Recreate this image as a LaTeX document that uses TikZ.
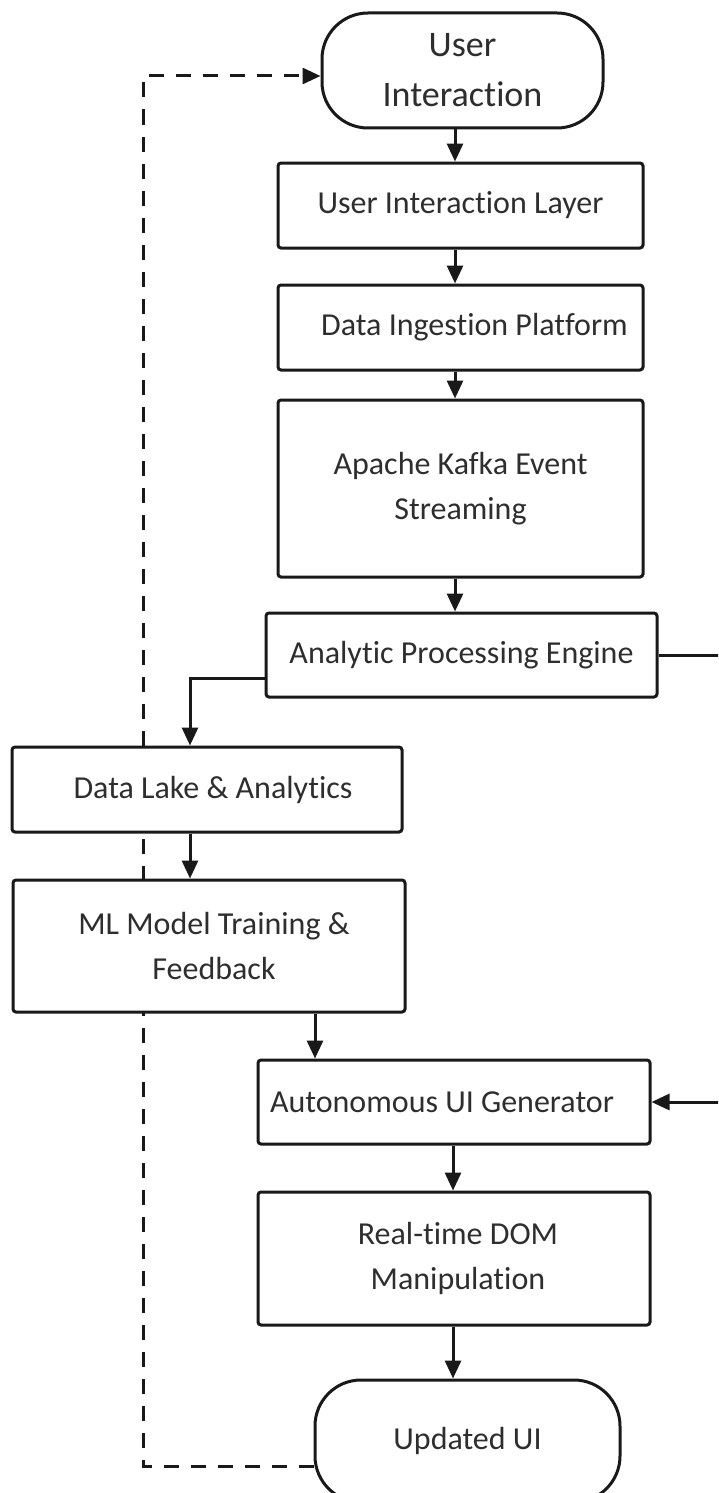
\documentclass[tikz,border=0pt]{standalone}
\usepackage{fontspec}
\setmainfont{Carlito}[Ligatures={NoCommon}]
\usetikzlibrary{arrows.meta,backgrounds}
\begin{document}
\begin{tikzpicture}[x=1pt,y=-1pt,
  box/.style={draw=black!90, line width=3pt, fill=white, rounded corners=3pt,
    text=black!82, align=center, inner sep=0pt,
    font=\fontsize{32}{45}\selectfont},
  term/.style={box, rounded corners=46pt},
  arr/.style={draw=black!90, line width=3pt, -{Triangle[length=18pt,width=16pt]}},
  dashline/.style={draw=black!90, line width=3pt, dash pattern=on 15pt off 12pt, -{Triangle[length=18pt,width=16pt]}}
]
\clip (0,0) rectangle (718,1493);

\node[term, minimum width=281pt, minimum height=115pt, font=\fontsize{36}{50}\selectfont] (ui) at (462.5,70.5) {User\\Interaction};
\node[box, minimum width=365pt, minimum height=85pt] (uil) at (460.5,205.5) {User Interaction Layer};
\node[box, minimum width=365pt, minimum height=85pt] (dip) at (460.5,327.5) {\hspace*{28pt}Data Ingestion Platform};
\node[box, minimum width=365pt, minimum height=177pt] (kaf) at (460.5,488.5) {Apache Kafka Event\\Streaming};
\node[box, minimum width=391pt, minimum height=84pt] (ape) at (461.5,655) {Analytic Processing Engine};
\node[box, minimum width=390pt, minimum height=85pt] (dla) at (207,789.5) {\hspace*{12pt}Data Lake \& Analytics};
\node[box, minimum width=392pt, minimum height=132pt] (ml) at (209,946) {\hspace*{10pt}ML Model Training \&\\\hspace*{10pt}Feedback};
\node[box, minimum width=392pt, minimum height=84pt] (aug) at (454,1102) {Autonomous UI Generator\hspace*{24pt}};
\node[box, minimum width=392pt, minimum height=133pt] (rdm) at (454,1258.5) {\hspace*{8pt}Real-time DOM\\\hspace*{8pt}Manipulation};
\node[term, minimum width=305pt, minimum height=122pt] (uui) at (467.5,1441) {Updated UI};

\coordinate (c1) at (455,0);
\coordinate (c2) at (190,678);
\coordinate (c3) at (315,0);
\coordinate (c4) at (453,0);
\coordinate (fbtop) at (143,76);
\coordinate (fbbot) at (143,1466);

\draw[arr] (ui.south -| c1) -- (uil.north -| c1);
\draw[arr] (uil.south -| c1) -- (dip.north -| c1);
\draw[arr] (dip.south -| c1) -- (kaf.north -| c1);
\draw[arr] (kaf.south -| c1) -- (ape.north -| c1);
\draw[arr] (ape.west |- c2) -- (c2) -- (dla.north -| c2);
\draw[arr] (dla.south -| c2) -- (ml.north -| c2);
\draw[arr] (ml.south -| c3) -- (aug.north -| c3);
\draw[arr] (aug.south -| c4) -- (rdm.north -| c4);
\draw[arr] (rdm.south -| c4) -- (uui.north -| c4);
\draw[arr] (ape.east) -- ++(90,0) |- (aug.east);

\begin{pgfonlayer}{background}
\fill[white] (0,0) rectangle (718,1493);
\draw[dashline] (uui.west |- fbbot) -- (fbbot) -- (fbtop) -- (ui.west |- fbtop);
\end{pgfonlayer}
\end{tikzpicture}
\end{document}
